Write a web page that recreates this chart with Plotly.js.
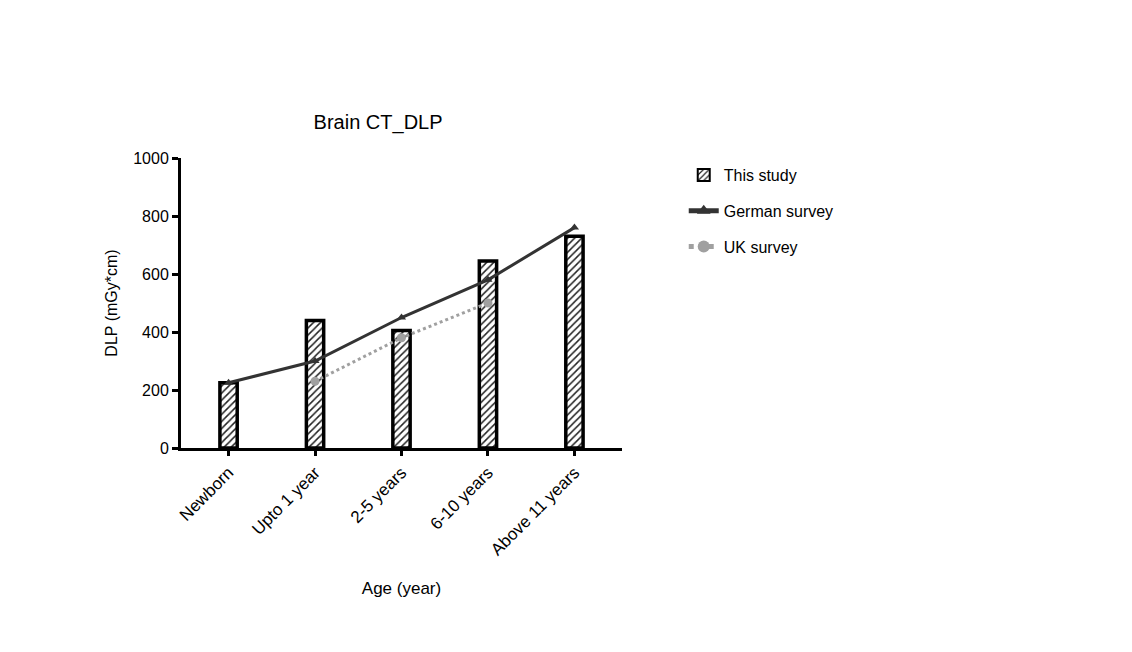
<!DOCTYPE html>
<html><head><meta charset="utf-8">
<script src="https://cdn.plot.ly/plotly-3.0.1.min.js"></script>
<style>body{margin:0;background:#fff}#c{width:1132px;height:652px}</style>
</head><body><div id="c"></div>
<script>
const categories = ["Newborn", "Upto 1 year", "2-5 years", "6-10 years", "Above 11 years"];
const thisStudy = [225, 440, 405, 645, 730];
const germanCats = ["Newborn", "Upto 1 year", "2-5 years", "6-10 years", "Above 11 years"];
const germanSurvey = [225, 300, 450, 580, 760];
const ukCats = ["Upto 1 year", "2-5 years", "6-10 years"];
const ukSurvey = [230, 380, 500];
const yTicks = [0, 200, 400, 600, 800, 1000];

const font = {family: "Liberation Sans, Arial, sans-serif", color: "#000"};
const traces = [
  {type: "bar", x: categories, y: thisStudy, name: "This study", width: 0.2, legendgroup: "a",
   marker: {color: "#fff", line: {color: "#000", width: 3.5},
            pattern: {shape: "/", fgcolor: "#222", bgcolor: "#fff", size: 5, solidity: 0.3}}},
  {type: "scatter", mode: "lines+markers", x: germanCats, y: germanSurvey, name: "German survey", legendgroup: "b",
   line: {color: "#333", width: 3}, marker: {symbol: "triangle-up", size: 8, color: "#333"}},
  {type: "scatter", mode: "lines+markers", x: ukCats, y: ukSurvey, name: "UK survey", legendgroup: "c",
   line: {color: "#a0a0a0", width: 3, dash: "dot"}, marker: {symbol: "circle", size: 9, color: "#a0a0a0"}}
];
const layout = {
  width: 1132, height: 652,
  margin: {l: 181, r: 510, t: 158, b: 204},
  paper_bgcolor: "#fff", plot_bgcolor: "#fff",
  font: Object.assign({size: 16}, font),
  title: {text: "Brain CT_DLP", x: 0.334, xanchor: "center", y: 0.813, yanchor: "middle", font: Object.assign({size: 20}, font)},
  showlegend: true,
  legend: {x: 1.14, y: 1.0, xanchor: "left", yanchor: "top", font: Object.assign({size: 16}, font),
           itemsizing: "constant", traceorder: "grouped", tracegroupgap: 12},
  xaxis: {type: "category", range: [-0.55, 4.55], showline: true, linewidth: 3, linecolor: "#000",
          ticks: "outside", ticklen: 5, tickwidth: 3, tickcolor: "#000", tickangle: -45,
          showgrid: false, zeroline: false, tickfont: Object.assign({size: 17}, font),
          title: {text: "Age (year)", standoff: 24, font: Object.assign({size: 17}, font)}},
  yaxis: {range: [0, 1000], tickvals: yTicks, showline: true, linewidth: 3, linecolor: "#000",
          ticks: "outside", ticklen: 6, tickwidth: 3, tickcolor: "#000",
          showgrid: false, zeroline: false, tickfont: Object.assign({size: 16}, font),
          title: {text: "DLP (mGy*cm)", standoff: 12, font: Object.assign({size: 16}, font)}},
  bargap: 0.8
};
Plotly.newPlot("c", traces, layout, {displayModeBar: false});
</script></body></html>
